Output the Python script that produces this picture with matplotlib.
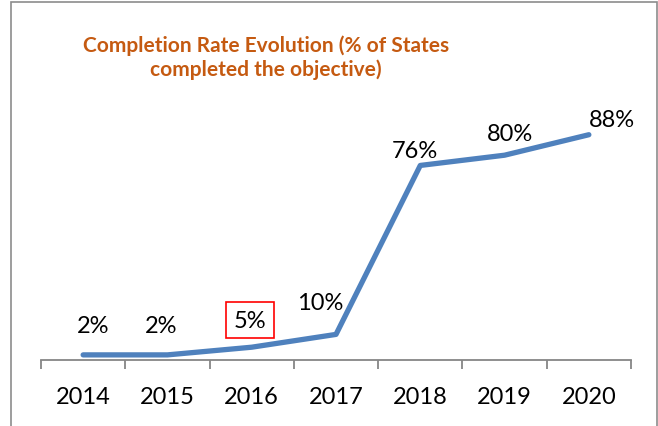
import matplotlib.pyplot as plt
from matplotlib.patches import Rectangle

# data
years = ["2014", "2015", "2016", "2017", "2018", "2019", "2020"]
rates = [2, 2, 5, 10, 76, 80, 88]
labels = ["2%", "2%", "5%", "10%", "76%", "80%", "88%"]

# label nudges in pixels (dx, dy) as placed in the original
label_dx = [10, -6, -2, -16, -5, 5, 23]
label_dy = [29, 29, 27, 32, 15, 22, 15]

plt.rcParams['font.family'] = ['Lato', 'DejaVu Sans']

fig = plt.figure(figsize=(6.58, 4.27), dpi=100)
ax = fig.add_axes([41 / 658, 66 / 427, 590 / 658, 256 / 427])

x = list(range(len(years)))
ax.plot(x, rates, color='#4F81BD', linewidth=3.8, solid_capstyle='round',
        solid_joinstyle='round')

for i, lab in enumerate(labels):
    bbox = None
    if lab == "5%" and years[i] == "2016":
        bbox = dict(boxstyle='square,pad=0.33', facecolor='white',
                    edgecolor='#FF0000', linewidth=1.2)
    ax.annotate(lab, (x[i], rates[i]),
                xytext=(label_dx[i] * 0.72, label_dy[i] * 0.72),
                textcoords='offset points', ha='center', va='center',
                fontsize=17, color='black', bbox=bbox)

ax.set_xlim(-0.5, len(years) - 0.5)
ax.set_ylim(0, 100)
ax.set_xticks(x)
ax.set_xticklabels(years, fontsize=17)
ax.set_xticks([i - 0.5 for i in range(len(years) + 1)], minor=True)
ax.tick_params(axis='x', which='major', length=0, pad=19)
ax.tick_params(axis='x', which='minor', length=6.5, width=1.3, color='#868686')
ax.set_yticks([])
for side in ['top', 'right', 'left']:
    ax.spines[side].set_visible(False)
ax.spines['bottom'].set_color('#868686')
ax.spines['bottom'].set_linewidth(1.3)

fig.text(266 / 658, 1 - 58 / 427,
         "Completion Rate Evolution (% of States\ncompleted the objective)",
         ha='center', va='center', fontsize=15, fontweight='bold',
         color='#C55A11', linespacing=1.2)

# outer chart frame
fig.patches.append(Rectangle((11 / 658, -0.1), 646 / 658, 1.1 - 3.5 / 427,
                             transform=fig.transFigure, fill=False,
                             edgecolor='#8C8C8C', linewidth=1.2))

fig.savefig("out.png", dpi=100)
